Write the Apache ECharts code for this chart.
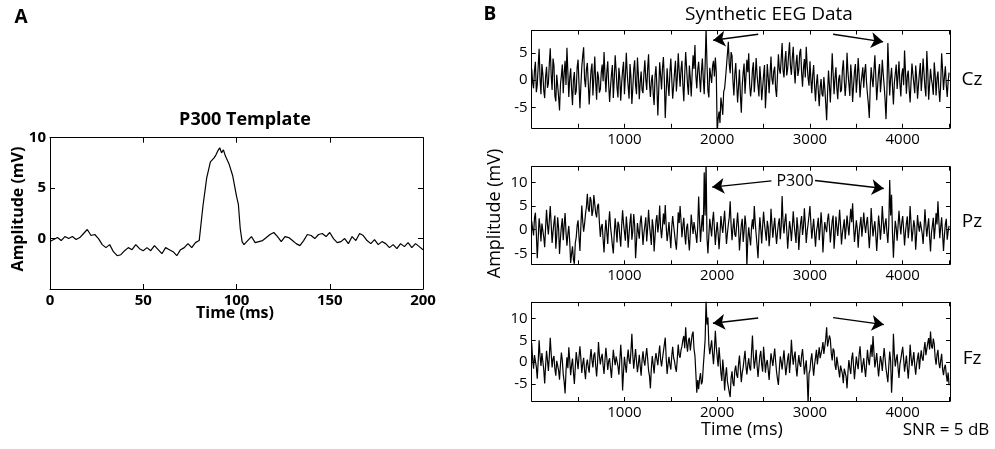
<!DOCTYPE html>
<html>
<head>
<meta charset="utf-8">
<script src="https://cdn.jsdelivr.net/npm/echarts@6/dist/echarts.min.js"></script>
<style>html,body{margin:0;padding:0;background:#fff}#c{width:995px;height:449px}</style>
</head>
<body>
<div id="c"></div>
<script>
// ---------- Panel A: P300 template ----------
const templateTime = [0,2,4,6,8,10,12,14,16,18,20,22,24,26,28,30,32,34,36,38,40,42,44,46,48,50,52,54,56,58,60,62,64,66,68,70,72,74,76,78,80,82,84,86,88,89,90,91,92,93,94,96,98,100,101,102,103,104,106,108,110,112,114,116,118,120,122,124,126,128,130,132,134,136,138,140,142,144,146,148,150,152,154,156,158,160,162,164,166,168,170,172,174,176,178,180,182,184,186,188,190,192,194,196,198,200];
const templateAmp = [-0.3,-0.1,0.1,-0.2,0.2,0.0,0.2,-0.1,0.1,0.5,0.9,0.3,0.4,0.0,-0.6,-0.9,-0.6,-1.3,-1.7,-1.6,-1.2,-0.9,-1.1,-0.6,-1.0,-1.2,-0.9,-1.2,-0.7,-1.1,-1.5,-0.9,-1.1,-1.3,-1.7,-1.1,-0.9,-0.5,-0.9,-0.4,-0.2,3.2,6.0,7.6,8.0,8.3,8.7,9.0,8.5,8.8,8.2,7.4,6.2,4.2,3.4,1.0,-0.3,-0.6,-0.2,0.2,-0.4,-0.3,-0.2,0.1,0.4,0.6,0.2,-0.3,0.2,0.1,-0.2,-0.5,-0.7,-0.2,0.4,0.3,0.0,0.4,0.5,0.2,0.6,0.0,-0.4,-0.3,0.0,-0.5,0.2,-0.2,0.5,0.3,-0.2,-0.5,-0.1,-0.6,-0.3,-0.5,-0.9,-0.6,-1.0,-0.5,-0.8,-0.4,-0.9,-0.5,-0.8,-1.1];
const templateXTicks = [0,50,100,150,200];
const templateYTicks = [0,5,10];

// ---------- Panel B: synthetic EEG (one sample every 10 ms) ----------
const eegStepMs = 10;
const czAmp = [
 2.1,-0.4,-1.5,1.8,3.4,-2.2,-0.8,2.6,5.8,0.3,-2.6,3.0,1.2,-1.9,-3.3,0.7,2.5,-1.4,-0.6,3.1,
 5.9,0.9,-1.8,4.0,2.7,-2.9,-3.9,1.0,1.2,-3.0,-5.6,-0.8,0.8,2.9,-2.4,1.3,3.6,-0.9,6.0,1.5,
 -3.1,0.4,2.2,-1.6,-4.6,0.1,1.5,-2.7,-2.0,2.4,3.8,-0.7,-5.2,-1.1,2.4,4.5,6.1,0.2,-1.3,2.0,
 3.2,-0.6,-4.5,-1.0,1.9,3.1,-2.8,0.5,4.4,-0.3,-3.6,1.6,0.6,-2.3,-1.7,1.4,2.9,-0.2,5.2,1.1,
 -2.2,1.5,3.5,-0.8,-4.0,-1.3,1.1,2.8,-3.3,0.2,4.6,1.9,-1.4,-3.2,2.3,0.4,-3.8,-0.5,1.8,3.4,
 -2.6,0.8,5.1,1.2,-1.2,-3.4,3.0,0.6,-4.4,-1.5,2.0,3.7,-0.9,-2.6,4.2,1.0,-3.5,-0.4,1.6,-1.8,
 -2.4,1.2,3.7,0.2,-1.8,2.1,4.8,-0.6,-3.1,-0.2,1.0,-2.5,-4.6,0.8,2.6,-1.3,-6.5,-1.6,3.3,0.9,
 -1.7,2.2,4.3,0.1,-7.0,-2.4,2.2,-0.8,-2.9,1.4,4.0,0.3,-3.4,-1.1,1.5,3.6,-2.1,0.5,5.0,1.7,
 -1.2,2.0,3.6,-0.9,-3.9,1.1,5.2,2.3,-0.8,-2.7,2.7,0.4,-3.0,1.3,4.6,2.1,6.5,0.8,-1.5,1.9,
 3.4,0.5,-2.2,1.6,4.0,0.2,-2.6,2.8,9.6,3.0,-1.9,-3.2,2.3,0.9,-0.5,2.6,3.6,0.7,4.2,1.5,
 -9.5,-7.2,-5.8,-7.9,-3.2,-4.6,-6.4,-2.1,-1.5,0.4,2.6,4.8,7.1,3.0,1.3,5.2,4.5,-0.2,-2.8,1.1,
 3.2,-0.5,-4.1,-1.2,2.0,-2.8,-6.0,-1.0,1.4,3.1,-2.5,0.7,3.8,1.5,5.0,-0.8,-3.0,-1.2,1.9,3.3,
 -2.2,0.6,4.1,1.0,-1.0,-3.0,2.6,0.1,-3.7,-1.4,0.9,2.8,-5.2,-1.7,3.0,0.5,-2.4,1.2,4.4,0.3,
 -0.8,1.7,2.5,-1.6,-3.1,0.9,4.8,2.0,1.2,3.9,6.9,1.8,0.5,3.6,5.4,0.9,2.2,4.7,7.0,2.6,
 1.0,4.2,6.2,2.0,-0.6,3.1,4.7,0.8,2.0,5.1,5.8,1.4,-1.2,2.2,3.9,0.5,6.2,2.7,0.4,-1.0,
 3.5,0.2,-2.4,1.0,2.8,-1.1,-3.9,-0.7,1.1,-2.0,-4.8,-1.4,0.2,-2.6,-3.0,0.6,-1.5,-4.2,-7.4,-2.3,
 1.8,-1.0,-4.1,0.3,5.0,1.2,-2.6,0.4,2.4,-1.5,-3.5,0.2,1.0,-2.2,-1.8,1.9,3.7,0.1,-2.9,-0.4,
 5.1,1.4,-0.7,-2.9,2.9,0.5,-4.0,-1.1,1.6,3.0,-2.3,0.2,4.1,1.0,-3.2,-0.6,0.8,2.4,-1.4,1.6,
 3.0,-0.4,-2.6,-4.4,-7.0,-1.2,2.4,0.3,-1.3,1.8,4.6,0.7,-3.7,-1.0,1.5,3.0,-2.2,0.1,3.8,1.2,
 -1.0,-3.6,-7.2,-1.8,6.9,2.0,-2.8,0.4,2.3,-1.2,-4.5,-0.5,1.2,2.9,-1.6,0.8,3.5,-0.7,-3.0,1.0,
 2.2,-0.9,5.5,1.6,-2.5,0.8,1.8,-1.7,-4.1,-0.3,3.1,1.1,-0.6,-2.4,2.7,0.6,-3.4,-1.0,1.3,3.2,
 -2.0,0.5,4.0,1.3,-1.4,-3.0,5.4,1.7,-3.6,-0.8,2.1,0.2,-0.9,-2.7,3.3,1.0,-2.8,0.3,1.6,-1.7,
 -4.0,-0.6,5.0,1.9,-1.8,0.6,2.6,-0.9,-3.1,-0.2,1.4
];
const pzAmp = [
 1.8,0.2,-1.2,2.5,3.6,-0.8,-6.0,-1.9,2.4,0.6,-2.5,1.3,0.9,-1.6,-3.7,0.5,4.2,1.1,-1.0,2.0,
 5.0,1.2,-2.8,-0.4,1.5,3.0,-4.0,-1.3,2.6,0.3,-5.1,-1.8,0.7,2.4,-2.2,0.9,3.5,-0.6,-3.4,-0.9,
 0.8,-2.5,-7.0,-5.1,-3.5,-6.3,-7.2,-2.8,-1.6,0.9,2.0,-1.5,-4.5,0.6,5.1,1.8,-0.4,1.2,3.3,4.9,
 7.6,4.4,3.8,6.9,6.2,2.9,4.0,7.3,7.1,3.5,2.6,5.0,5.5,1.4,-1.5,0.6,1.2,-2.0,-4.8,-0.7,
 2.1,-0.6,-3.0,1.2,3.9,0.6,-1.2,-3.3,-5.0,-0.9,2.4,0.1,-2.7,1.7,1.0,-1.4,-3.6,0.8,4.1,1.3,
 -0.5,-2.3,2.8,0.4,-3.8,-0.8,1.6,3.4,-2.1,-0.3,3.3,1.0,-6.0,-2.6,1.4,-0.4,-1.9,1.5,3.0,0.2,
 -3.2,-0.7,0.9,2.6,-2.5,0.3,4.2,1.0,-1.1,-3.2,2.2,0.5,-4.6,-1.3,1.8,3.1,-0.6,1.2,5.1,0.4,
 -1.8,0.6,3.4,1.1,5.2,0.8,-2.4,-0.7,1.6,-1.3,-3.9,0.5,2.9,0.9,-0.8,-2.7,-4.2,-0.6,3.7,1.4,
 5.0,1.9,-1.6,0.8,2.5,-1.0,-3.1,0.4,1.3,-2.0,-4.4,-0.8,3.2,1.0,-0.9,1.6,2.0,-1.1,-2.8,0.6,
 7.0,1.8,-2.6,0.7,3.1,-0.4,12.1,3.0,14.5,-1.8,-5.0,-1.2,2.3,0.4,-1.4,1.9,3.8,0.2,-3.2,-0.5,
 1.6,-0.9,-4.1,-1.0,2.9,0.8,-0.7,1.7,4.0,0.3,-3.0,-0.8,1.1,2.6,6.0,1.0,-2.2,0.4,2.4,-1.0,
 -1.5,1.0,3.6,0.5,-4.4,-1.6,1.0,2.3,-2.6,-0.3,3.0,0.9,-7.8,-2.0,0.5,-1.7,-3.3,0.4,2.2,0.1,
 5.0,1.5,-1.0,-3.4,-6.0,-1.0,2.6,0.2,-2.9,0.8,3.8,1.2,-0.6,-2.3,1.9,0.5,-3.5,-0.9,4.4,1.3,
 -1.7,0.6,2.5,-0.5,-3.0,-0.6,1.3,2.4,-2.0,0.7,7.1,1.5,-0.8,1.9,3.4,-0.2,-4.0,-1.0,1.8,0.3,
 -2.4,0.5,3.9,1.0,-0.9,-2.8,2.6,0.4,-4.3,-0.9,1.5,2.9,-1.1,0.6,4.5,1.2,-2.8,-0.4,1.2,3.0,
 5.0,1.4,-1.9,0.3,2.3,-0.8,-3.6,-0.4,0.8,2.5,-2.2,0.1,3.7,1.0,-4.8,-1.2,1.6,0.4,-0.5,2.1,
 3.4,0.8,-2.7,-0.3,1.9,3.0,-4.0,-1.1,2.8,0.6,-1.3,1.4,4.2,0.9,-3.1,-0.7,0.6,2.2,-2.0,0.3,
 3.0,0.7,-1.2,1.9,4.4,1.6,5.6,0.9,-2.6,-0.4,2.0,0.3,-3.8,-0.6,1.1,2.7,-1.5,0.8,3.6,1.0,
 -0.7,1.5,2.7,-0.6,-3.9,-0.8,4.6,1.3,-1.4,0.5,1.8,-1.2,-4.5,-0.9,3.0,0.9,-2.1,0.6,5.0,1.7,
 -0.9,1.2,2.4,-0.7,-2.8,1.0,10.5,3.0,7.4,-0.8,-5.9,-1.3,1.9,0.4,-2.3,0.8,4.0,1.1,-1.0,1.5,
 2.9,0.1,-3.3,-0.6,1.4,2.8,-1.8,0.5,5.0,1.3,-2.5,-0.3,2.0,0.6,-4.2,-1.0,3.1,0.8,-0.4,1.7,
 1.8,-0.8,-3.0,0.2,4.3,1.0,-1.5,0.7,2.4,-1.6,-4.6,-0.7,0.9,2.5,-2.0,0.4,3.5,1.1,6.0,1.8,
 -1.8,0.6,2.6,-0.9,-4.5,-1.2,1.2,2.3,-2.1,-0.4,0.8
];
const fzAmp = [
 4.4,0.7,-1.5,1.6,2.0,-1.1,-3.8,0.2,5.0,1.4,-0.9,2.1,1.8,-1.7,-4.9,-0.8,2.6,0.5,-2.0,1.3,
 5.6,1.9,-1.2,0.8,1.4,-1.6,-3.1,0.3,0.5,-1.9,-4.0,-0.6,2.2,0.4,-2.8,-4.5,-7.2,-2.0,1.1,-1.4,
 3.4,0.6,-3.0,-0.7,0.8,-2.3,-5.0,-1.2,2.3,0.4,-1.6,1.2,3.6,0.9,-2.5,-0.4,1.0,-1.8,-3.9,-0.6,
 0.6,-1.2,-2.4,0.9,3.0,0.4,-1.2,1.6,2.2,-0.9,-3.3,-0.2,4.6,1.5,-0.5,1.0,1.9,-0.8,-2.7,0.5,
 3.3,0.9,-1.8,0.2,0.9,-1.5,-3.6,-0.4,2.8,0.8,-0.7,1.3,1.6,-0.9,-2.9,0.3,4.0,0.6,-6.5,-2.2,
 1.2,-0.8,-2.4,0.7,2.9,0.4,-0.4,2.5,6.5,1.6,-1.5,0.9,3.0,0.2,-2.3,-0.5,1.7,-0.9,-3.1,0.4,
 2.5,0.3,-0.8,1.4,3.2,0.8,-1.9,-3.2,-6.0,-1.4,1.4,-0.6,-2.6,0.5,2.1,0.6,-0.7,1.8,3.8,0.6,
 -1.0,0.8,2.4,4.0,5.6,1.0,-2.7,-0.5,1.2,-0.6,-1.7,1.4,3.5,1.0,0.2,-1.3,-2.2,0.9,4.0,1.6,
 1.0,2.8,3.6,5.1,6.0,3.2,8.0,4.3,2.4,5.0,5.6,2.7,3.0,6.3,7.0,3.0,1.5,-2.6,-7.0,-4.1,
 -6.2,-3.8,-2.5,-5.1,-4.4,-1.0,2.0,5.2,14.0,8.6,10.2,4.0,1.8,3.4,5.0,2.1,-0.5,2.8,7.2,3.5,
 1.2,-1.0,3.4,0.6,-2.5,-4.3,0.6,-2.0,-6.5,-3.1,-1.2,-4.4,-4.0,-6.9,-8.0,-3.6,-2.1,-4.8,-5.5,-1.9,
 -0.8,-2.9,-3.6,-0.5,1.5,-1.6,-4.6,-2.4,-1.2,0.8,2.6,-0.9,-2.8,-0.6,0.9,-1.3,-1.9,2.2,6.1,1.4,
 -1.5,0.4,2.8,-0.7,-3.4,-1.0,1.4,2.6,-0.6,-2.2,3.5,0.8,-2.4,-0.3,0.5,-1.8,-4.1,-0.9,2.0,0.6,
 -0.9,1.2,3.1,0.2,-2.2,-3.9,-5.2,-1.6,1.3,0.1,-1.7,0.6,2.7,-0.4,-3.0,-1.1,0.8,2.0,-2.5,0.3,
 5.1,1.6,-0.6,1.3,2.4,-1.2,-3.3,-0.5,1.6,-0.4,-1.1,1.5,3.0,0.3,-2.8,-1.0,0.4,-3.4,-9.4,-2.6,
 -1.8,0.6,2.0,-0.8,-3.1,-0.6,1.1,2.8,-0.5,1.6,3.4,0.9,0.8,3.0,4.6,1.9,2.2,5.3,8.0,3.6,
 3.5,6.1,5.2,2.0,0.4,3.1,2.6,-0.6,-1.8,1.2,1.0,-1.9,-3.5,-0.8,-0.6,-2.7,-4.8,-1.5,-1.4,-3.3,
 -6.0,-2.2,0.5,-1.4,-2.7,0.8,2.2,-0.9,-3.9,-1.2,1.3,-0.4,-1.6,1.7,3.6,0.5,-2.4,-0.6,0.9,-1.5,
 -3.4,-0.5,2.8,0.6,-0.7,1.9,4.0,1.2,6.0,2.2,-1.2,0.4,2.1,-0.8,-3.3,-0.9,1.4,0.2,-2.0,0.8,
 3.2,0.9,-1.5,-3.0,-4.6,-0.9,2.4,0.3,-7.0,-2.5,6.5,1.8,-1.0,0.6,1.8,-1.4,-3.6,-0.5,0.7,2.2,
 3.5,0.8,-2.2,-0.4,1.5,-1.3,-3.8,-0.7,4.0,1.2,-0.9,0.6,2.3,-0.8,-2.9,-0.5,1.0,2.2,-1.6,0.9,
 2.7,0.9,0.3,2.9,4.6,1.6,2.0,4.4,5.5,2.9,7.0,3.6,3.1,5.4,4.2,1.0,-0.6,1.7,2.8,-0.2,
 -1.4,0.4,1.9,-1.6,-3.0,-1.2,-0.6,-2.9,-4.5,-2.4,-5.3
];
const eegXTicks = [500,1000,1500,2000,2500,3000,3500,4000,4500];
const eegXLabels = [1000,2000,3000,4000];
const czYTicks = [-5,0,5];
const pzYTicks = [-5,0,5,10];
const fzYTicks = [-5,0,5,10];
// arrow annotations [fromTime, fromAmp, toTime, toAmp]
const czArrows = [[2442,8.5,1957,7.4],[3250,8.5,3789,7.1]];
const pzArrows = [[2585,10.3,1946,9.0],[3055,10.4,3796,8.7]];
const fzArrows = [[2442,10.1,1954,8.9],[3250,10.2,3796,8.6]];

// ---------- build ----------
const chart = echarts.init(document.getElementById('c'), null, {renderer:'canvas'});
const fontA = '"Open Sans", sans-serif';
const fontB = '"Open Sans", sans-serif';

const grids = [
  {left:50, top:137.7, width:373, height:151.3},
  {left:531.7, top:30.5, width:418.3, height:97.3},
  {left:531.7, top:166.7, width:418.3, height:97.6},
  {left:531.7, top:302.3, width:418.3, height:98.7}
];
const xAxes = [], yAxes = [];
function addAxes(g, xr, xticks, xlabels, yr, yticks, ylabels, font, weight, fs, tickLen){
  const line = {show:true, onZero:false, lineStyle:{color:'#000', width:1}};
  const tick = (vals)=>({show:true, inside:true, length:tickLen, lineStyle:{color:'#000', width:1}, customValues:vals});
  const lab = (vals)=>({show:true, customValues:vals, margin:4, color:'#000', fontFamily:font, fontWeight:weight, fontSize:fs, formatter:(v)=>String(v)});
  xAxes.push({type:'value', gridIndex:g, position:'bottom', min:xr[0], max:xr[1], axisLine:line, axisTick:tick(xticks), splitLine:{show:false}, axisLabel:lab(xlabels)});
  xAxes.push({type:'value', gridIndex:g, position:'top', min:xr[0], max:xr[1], axisLine:line, axisTick:tick(xticks), splitLine:{show:false}, axisLabel:{show:false}});
  yAxes.push({type:'value', gridIndex:g, position:'left', min:yr[0], max:yr[1], axisLine:line, axisTick:tick(yticks), splitLine:{show:false}, axisLabel:lab(ylabels)});
  yAxes.push({type:'value', gridIndex:g, position:'right', min:yr[0], max:yr[1], axisLine:line, axisTick:tick(yticks), splitLine:{show:false}, axisLabel:{show:false}});
}
addAxes(0,[0,200],templateXTicks,templateXTicks,[-5,10],templateYTicks,templateYTicks,fontA,'bold',15,5);
addAxes(1,[0,4510],eegXTicks,eegXLabels,[-8.8,9.2],czYTicks,czYTicks,fontB,'normal',15,4);
addAxes(2,[0,4510],eegXTicks,eegXLabels,[-7.3,13.3],pzYTicks,pzYTicks,fontB,'normal',15,4);
addAxes(3,[0,4510],eegXTicks,eegXLabels,[-8.9,13.7],fzYTicks,fzYTicks,fontB,'normal',15,4);

function eegSeries(vals, g, arrows){
  return {type:'line', xAxisIndex:g*2, yAxisIndex:g*2, showSymbol:false, symbol:'none', clip:true,
    lineStyle:{color:'#000', width:1.2}, data: vals.map((v,i)=>[i*eegStepMs, v]),
    markLine:{silent:true, symbol:['none','arrow'], symbolSize:12, label:{show:false},
      lineStyle:{color:'#000', width:1.4, type:'solid'},
      data: arrows.map(a=>[{coord:[a[0],a[1]]},{coord:[a[2],a[3]]}])}};
}
const series = [
  {type:'line', xAxisIndex:0, yAxisIndex:0, showSymbol:false, symbol:'none', lineStyle:{color:'#000', width:1.2},
    data: templateTime.map((t,i)=>[t, templateAmp[i]])},
  eegSeries(czAmp,1,czArrows),
  eegSeries(pzAmp,2,pzArrows),
  eegSeries(fzAmp,3,fzArrows)
];

function txt(text,x,y,font,size,weight,rot){
  return {type:'text', x:x, y:y, rotation:rot||0, silent:true,
    style:{text:text, fill:'#000', font:(weight||'normal')+' '+size+'px '+font, textAlign:'center', textVerticalAlign:'middle'}};
}
const graphic = [
  txt('A',21,18,fontA,19,'bold'),
  txt('B',490,15,fontA,19,'bold'),
  txt('P300 Template',245,120,fontA,18,'bold'),
  txt('Amplitude (mV)',18.5,209,fontA,16,'bold',Math.PI/2),
  txt('Time (ms)',235,313,fontA,16,'bold'),
  txt('Synthetic EEG Data',769,15,fontB,19),
  txt('Cz',972,80,fontB,19),
  txt('Pz',972,222,fontB,19),
  txt('Fz',972,359,fontB,19),
  txt('Amplitude (mV)',495,213.5,fontB,18,'normal',Math.PI/2),
  txt('Time (ms)',742,430,fontB,18),
  txt('SNR = 5 dB',946,430,fontB,17),
  txt('P300',795,181,fontB,16)
];

chart.setOption({animation:false, backgroundColor:'#fff', grid:grids, xAxis:xAxes, yAxis:yAxes, series:series, graphic:graphic});
</script>
</body>
</html>
